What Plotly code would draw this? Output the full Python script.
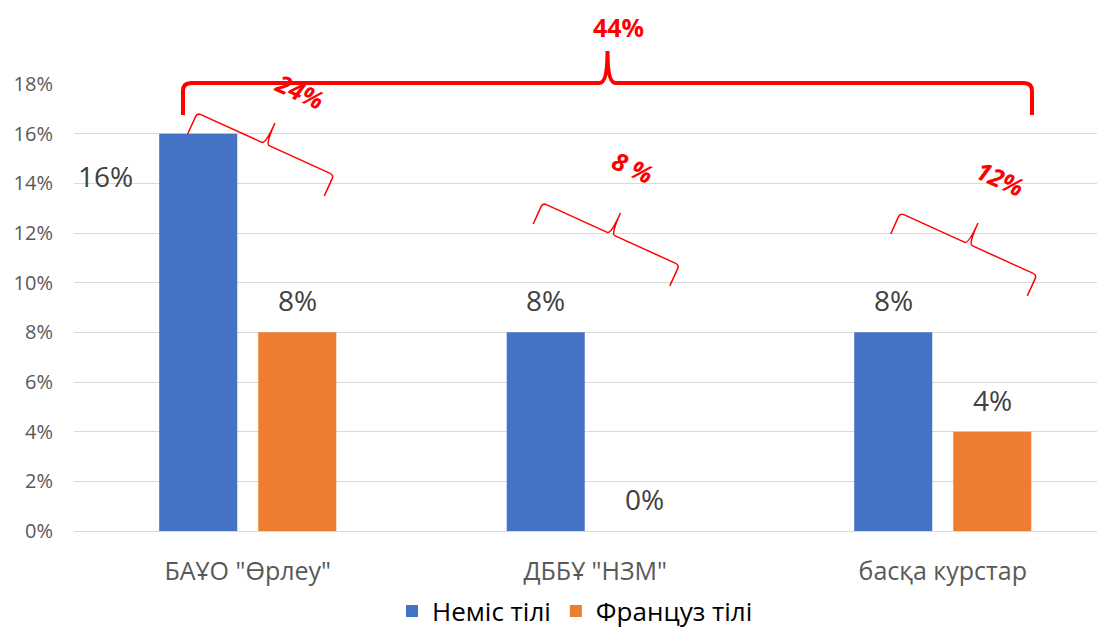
import math
import plotly.graph_objects as go

# ---------------- data ----------------
categories = ['БАҰО "Өрлеу"', 'ДББҰ "НЗМ"', 'басқа курстар']
series_names = ['Неміс тілі', 'Француз тілі']
german = [0.16, 0.08, 0.08]
french = [0.08, 0.00, 0.04]
y_ticks = [0, 0.02, 0.04, 0.06, 0.08, 0.10, 0.12, 0.14, 0.16, 0.18]
group_labels = ['24%', '8 %', '12%']
total_label = '44%'

# ---------------- layout constants ----------------
OFF = 8                      # page body margin of the html page
W, H = 1105 - OFF, 631 - OFF
ML, MR, MT = 74 - OFF, 0, 84 - OFF
PH = 447
MB = H - MT - PH
PW = W - ML - MR
CAT_PX = 347.5
BARGAP, BARGROUPGAP = 0.43, 0.212
BLUE, ORANGE, RED = '#4472C4', '#ED7D31', '#FF0000'
FONT = 'Open Sans'


def p2p(px, py):
    """screen pixel -> paper coordinates"""
    px -= OFF
    py -= OFF
    return (px - ML) / PW, (H - MB - py) / PH


fig = go.Figure()
fig.add_trace(go.Bar(x=categories, y=german, name=series_names[0],
                     marker=dict(color=BLUE, line=dict(width=0))))
fig.add_trace(go.Bar(x=categories, y=french, name=series_names[1],
                     marker=dict(color=ORANGE, line=dict(width=0))))

annotations = []
slot = (1 - BARGAP) / 2
offsets = [-slot / 2, slot / 2]
for si, vals in enumerate([german, french]):
    for ci, v in enumerate(vals):
        xs, ys = 0, 32
        if si == 0 and ci == 0:
            xs, ys = -93, -42
        annotations.append(dict(x=ci + offsets[si], y=v, xref='x', yref='y',
                                text=f'{round(v*100)}%', showarrow=False,
                                xshift=xs, yshift=ys, xanchor='center', yanchor='middle',
                                font=dict(family=FONT, size=28, color='#404040')))


def brace(mid, ang, L, h, d, rc, rt):
    th = math.radians(ang)
    u = (math.cos(th), math.sin(th))
    n = (math.sin(th), -math.cos(th))
    a = L / 2

    def P(s, t):
        px = mid[0] + s * u[0] + t * n[0]
        py = mid[1] + s * u[1] + t * n[1]
        x, y = p2p(px, py)
        return f'{x:.5f},{y:.5f}'
    path = (f'M{P(-a, -d)} L{P(-a, -rc)} Q{P(-a, 0)} {P(-a + rc, 0)} '
            f'L{P(-rt, 0)} Q{P(0, 0)} {P(0, h)} Q{P(0, 0)} {P(rt, 0)} '
            f'L{P(a - rc, 0)} Q{P(a, 0)} {P(a, -rc)} L{P(a, -d)}')
    return path


shapes = []
# big brace
shapes.append(dict(type='path', xref='paper', yref='paper',
                   path=brace((607.5, 83), 0, 849, 32, 32, 8, 8),
                   line=dict(color=RED, width=4)))
# small braces
small_mids = [(265.5, 144), (611, 234), (968.5, 244)]
for m in small_mids:
    shapes.append(dict(type='path', xref='paper', yref='paper',
                       path=brace(m, 24.4, 150, 23, 23, 4, 4),
                       line=dict(color=RED, width=1.5)))

label_pos = [(300, 91), (633, 167), (1000, 178)]
for txt, (px, py) in zip(group_labels, label_pos):
    x, y = p2p(px, py)
    annotations.append(dict(x=x, y=y, xref='paper', yref='paper', text=f'<b><i>{txt}</i></b>',
                            showarrow=False, textangle=24.4, xanchor='center', yanchor='middle',
                            font=dict(family=FONT, size=25, color=RED)))
x, y = p2p(618, 27)
annotations.append(dict(x=x, y=y, xref='paper', yref='paper', text=f'<b>{total_label}</b>',
                        showarrow=False, xanchor='center', yanchor='middle',
                        font=dict(family=FONT, size=25, color=RED)))

lx, ly = p2p(575, 611)
fig.update_layout(
    width=W, height=H,
    margin=dict(l=ML, r=MR, t=MT, b=MB, autoexpand=False),
    plot_bgcolor='white', paper_bgcolor='white',
    barmode='group', bargap=BARGAP, bargroupgap=BARGROUPGAP,
    showlegend=True,
    legend=dict(orientation='h', x=lx, y=ly, xanchor='center', yanchor='middle',
                font=dict(family=FONT, size=26, color='#000000'),
                itemwidth=30, tracegroupgap=0),
    xaxis=dict(range=[-0.5, -0.5 + PW / CAT_PX], showgrid=False, showline=False,
               ticks='', ticklabelstandoff=23,
               tickfont=dict(family=FONT, size=25, color='#595959')),
    yaxis=dict(range=[0, 0.18], tickvals=y_ticks, tickformat='.0%',
               showgrid=True, gridcolor='#D9D9D9', gridwidth=1.3,
               zeroline=True, zerolinecolor='#D9D9D9', zerolinewidth=1.3,
               showline=False, ticks='', ticklabelstandoff=20,
               tickfont=dict(family=FONT, size=20, color='#595959')),
    annotations=annotations, shapes=shapes,
)

fig.write_html('out.html')
